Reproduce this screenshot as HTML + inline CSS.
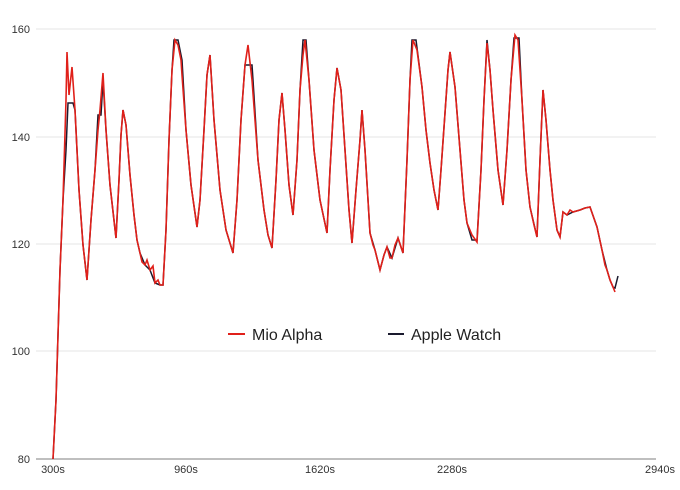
<!DOCTYPE html>
<html><head><style>body{margin:0;background:#fff}svg{display:block}text{font-family:"Liberation Sans",sans-serif}</style></head><body>
<svg width="680" height="490" viewBox="0 0 680 490">
<g stroke="#e6e6e6" stroke-width="1">
<line x1="36" y1="29" x2="656" y2="29"/><line x1="36" y1="137" x2="656" y2="137"/><line x1="36" y1="244" x2="656" y2="244"/><line x1="36" y1="351" x2="656" y2="351"/>
</g>
<line x1="36" y1="459" x2="656" y2="459" stroke="#aaa" stroke-width="1.5"/>
<g font-size="11" fill="#333" text-anchor="end">
<text x="30" y="33">160</text><text x="30" y="141">140</text><text x="30" y="248">120</text><text x="30" y="355">100</text><text x="30" y="463">80</text>
</g>
<g font-size="11" fill="#333" text-anchor="middle">
<text x="53" y="473">300s</text><text x="186" y="473">960s</text><text x="320" y="473">1620s</text><text x="452" y="473">2280s</text><text x="660" y="473">2940s</text>
</g>
<polyline fill="none" stroke="#1a1a2e" stroke-width="1.5" points="53,459 56,400 60,270 63,200 66,150 68,103 73,103 75,110 79,190 83,245 87,280 91,220 95,170 98,115 101,115 103,80 106,130 110,185 116,238 119,180 121,135 123,110 126,125 130,175 134,215 137,240 140,253 145,265 150,270 155,283 160,285 163,285 166,230 169,140 172,70 174,40 178,40 181,55 182,60 186,130 191,185 197,227 200,200 204,130 207,75 210,55 214,120 220,190 226,230 233,253 237,200 241,120 245,65 252,65 253,80 258,160 264,210 268,235 272,248 276,180 279,120 282,93 285,130 289,185 293,215 297,160 300,90 303,40 306,40 309,80 314,150 320,200 327,233 330,170 334,100 337,68 341,90 345,150 349,210 352,243 356,190 360,140 362,110 365,150 370,233 375,250 380,270 384,255 387,247 392,258 398,238 403,253 407,160 410,80 412,40 416,40 422,87 426,130 430,163 434,190 438,210 441,170 445,113 448,70 450,52 455,87 460,150 464,200 467,223 472,240 477,240 481,170 484,100 487,40 490,70 493,110 498,170 503,205 507,150 511,80 514,38 519,38 522,100 526,170 530,207 537,237 540,160 543,90 546,120 550,170 553,200 557,230 560,237 563,212 567,215 573,212 580,210 585,208 590,207 597,227 602,250 607,270 610,280 613,287 615,288 618,276"/>
<polyline fill="none" stroke="#e0201a" stroke-width="1.6" points="53,459 56,400 60,270 63,200 66,100 67,52 69,95 72,67 75,110 79,190 83,245 87,280 91,220 95,170 98,130 100,110 103,73 106,130 110,185 116,238 119,180 121,135 123,110 126,125 130,175 134,215 137,240 140,253 142,262 145,265 147,260 150,270 153,266 155,283 158,280 160,285 163,285 166,230 169,140 172,70 175,40 178,45 181,60 182,75 186,130 191,185 197,227 200,200 204,130 207,75 210,55 214,120 220,190 226,230 233,253 237,200 241,120 245,65 248,45 252,80 258,160 264,210 268,235 272,248 276,180 279,120 282,93 285,130 289,185 293,215 297,160 300,90 303,55 305,40 309,80 314,150 320,200 327,233 330,170 334,100 337,68 341,90 345,150 349,210 352,243 356,190 360,140 362,110 365,150 370,233 373,245 375,250 378,262 380,270 384,255 387,247 390,258 392,258 395,245 398,238 403,253 407,160 410,80 413,40 417,50 422,87 426,130 430,163 434,190 438,210 441,170 445,113 448,70 450,52 455,87 460,150 464,200 467,223 472,235 477,242 481,170 484,100 487,43 490,70 493,110 498,170 503,205 507,150 511,80 515,35 518,40 522,100 526,170 530,207 534,225 537,237 540,160 543,90 546,120 550,170 553,200 557,230 560,237 563,212 567,215 570,210 573,212 580,210 585,208 590,207 597,227 602,250 605,265 607,270 610,280 613,287 615,292"/>
<line x1="228" y1="334" x2="245" y2="334" stroke="#e0201a" stroke-width="2"/>
<text x="252" y="340" font-size="16" fill="#222">Mio Alpha</text>
<line x1="388" y1="334" x2="404" y2="334" stroke="#1a1a2e" stroke-width="2"/>
<text x="411" y="340" font-size="16" fill="#222">Apple Watch</text>
</svg>
</body></html>
